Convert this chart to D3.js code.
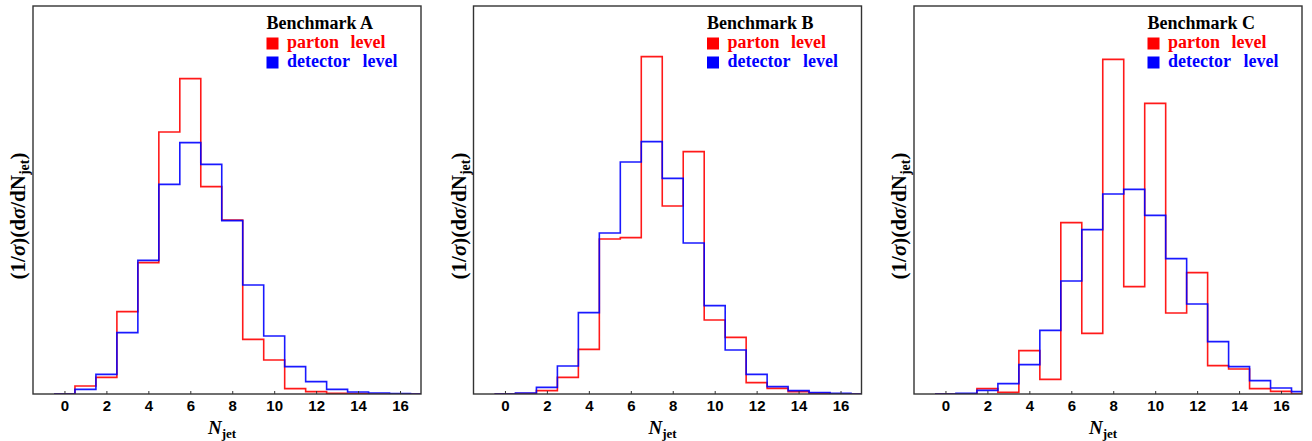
<!DOCTYPE html>
<html>
<head>
<meta charset="utf-8">
<script src="https://cdn.jsdelivr.net/npm/d3@7"></script>
<style>
  html, body { margin: 0; padding: 0; background: #fff; overflow: hidden; }
  svg { display: block; }
</style>
</head>
<body>
<div id="chart"></div>
<script>
// bin centres (N_jet = 0 ... 17), arbitrary normalisation
const bins = d3.range(0, 18);
const xTicks = [0, 2, 4, 6, 8, 10, 12, 14, 16];

const partonA   = [0, 24, 50, 247, 394, 786, 946, 622, 522, 164, 102, 16, 7, 2, 1, 0, 0, 0];
const detectorA = [0, 14, 59, 184, 401, 629, 754, 689, 520, 327, 174, 82, 37, 14, 6, 3, 1, 0];

const partonB   = [0, 1, 10, 50, 134, 465, 469, 1012, 564, 727, 222, 170, 34, 17, 7, 2, 0, 0];
const detectorB = [0, 3, 20, 84, 244, 483, 696, 757, 647, 453, 265, 132, 59, 22, 10, 4, 2, 0];

const partonC   = [0, 0, 16, 5, 130, 44, 514, 182, 1004, 322, 872, 243, 364, 85, 75, 16, 8, 0];
const detectorC = [0, 2, 11, 31, 88, 191, 339, 493, 600, 614, 536, 406, 270, 157, 82, 40, 18, 7];

const panelNames = ["Benchmark A", "Benchmark B", "Benchmark C"];
const partonSeries = [partonA, partonB, partonC];
const detectorSeries = [detectorA, detectorB, detectorC];

const width = 1312, height = 441;
const panelLeft = [33, 473.5, 914];
const panelTop = 6;
const innerWidth = 388, innerHeight = 388;

const serif = "'Liberation Serif', 'Times New Roman', serif";
const sans = "'Liberation Sans', Arial, sans-serif";

const svg = d3.select("#chart").append("svg")
  .attr("width", width)
  .attr("height", height)
  .attr("viewBox", [0, 0, width, height]);

const xScale = d3.scaleLinear().domain([-1.5, 17]).range([0, innerWidth]);
const yScale = d3.scaleLinear().domain([0, 1164]).range([innerHeight, 0]);

const histLine = d3.line()
  .x(d => xScale(d[0]))
  .y(d => yScale(d[1]))
  .curve(d3.curveStepAfter);

const stepPoints = (values) => {
  const pts = values.map((v, i) => [bins[i] - 0.5, v]);
  pts.push([bins[bins.length - 1] + 0.5, values[values.length - 1]]);
  return pts;
};

const drawPanel = (i) => {
  const g = svg.append("g")
    .attr("transform", `translate(${panelLeft[i]}, ${panelTop})`);

  g.append("clipPath").attr("id", `clip-${i}`)
    .append("rect")
      .attr("width", innerWidth)
      .attr("height", innerHeight);

  const plot = g.append("g").attr("clip-path", `url(#clip-${i})`);

  plot.append("path")
    .attr("d", histLine(stepPoints(partonSeries[i])))
    .attr("fill", "none")
    .attr("stroke", "#ff0000")
    .attr("stroke-opacity", 0.9)
    .attr("stroke-width", 1.6);

  plot.append("path")
    .attr("d", histLine(stepPoints(detectorSeries[i])))
    .attr("fill", "none")
    .attr("stroke", "#0000ff")
    .attr("stroke-opacity", 0.9)
    .attr("stroke-width", 1.6);

  // x axis: inward ticks, bold labels
  const xAxis = g.append("g")
    .attr("transform", `translate(0, ${innerHeight})`)
    .call(d3.axisBottom(xScale)
      .tickValues(xTicks)
      .tickSizeInner(-3)
      .tickSizeOuter(0)
      .tickPadding(6));
  xAxis.select(".domain").remove();
  xAxis.selectAll(".tick line").attr("stroke", "#333");
  xAxis.selectAll(".tick text")
    .attr("font-family", sans)
    .attr("font-weight", "bold")
    .attr("font-size", 15)
    .attr("fill", "#000");

  // frame
  g.append("rect")
    .attr("width", innerWidth)
    .attr("height", innerHeight)
    .attr("fill", "none")
    .attr("stroke", "#333")
    .attr("stroke-width", 1.4);

  // x title
  const xt = g.append("text")
    .attr("x", innerWidth / 2 - 5)
    .attr("y", innerHeight + 40)
    .attr("text-anchor", "middle")
    .attr("font-family", serif)
    .attr("fill", "#000");
  xt.append("tspan")
    .attr("font-style", "italic")
    .attr("font-weight", "bold")
    .attr("font-size", 19)
    .text("N");
  xt.append("tspan")
    .attr("font-weight", "bold")
    .attr("font-size", 13)
    .attr("dy", 4)
    .text("jet");

  // y title
  const yt = g.append("text")
    .attr("transform", `translate(-8, ${innerHeight / 2 + 16}) rotate(-90)`)
    .attr("text-anchor", "middle")
    .attr("font-family", serif)
    .attr("font-weight", "bold")
    .attr("font-size", 21)
    .attr("fill", "#000");
  yt.append("tspan").text("(1/");
  yt.append("tspan").attr("font-style", "italic").text("σ");
  yt.append("tspan").text(")(d");
  yt.append("tspan").attr("font-style", "italic").text("σ");
  yt.append("tspan").text("/dN");
  yt.append("tspan").attr("font-size", 14).attr("dy", 4).text("jet");
  yt.append("tspan").attr("dy", -4).text(")");

  // legend
  const lg = g.append("g")
    .attr("transform", "translate(233.5, 0)")
    .attr("font-family", serif)
    .attr("font-weight", "bold")
    .attr("font-size", 18);

  lg.append("text")
    .attr("x", 0)
    .attr("y", 22.5)
    .attr("fill", "#000")
    .text(panelNames[i]);

  const entries = [
    { label: "parton", color: "#ff0000", y: 31.5, levelX: 84 },
    { label: "detector", color: "#0000ff", y: 50.5, levelX: 96 }
  ];
  entries.forEach(e => {
    lg.append("rect")
      .attr("x", 0)
      .attr("y", e.y)
      .attr("width", 12)
      .attr("height", 12)
      .attr("fill", e.color);
    const t = lg.append("text")
      .attr("y", e.y + 10)
      .attr("fill", e.color);
    t.append("tspan").attr("x", 20.5).text(e.label);
    t.append("tspan").attr("x", e.levelX).text("level");
  });
};

panelNames.forEach((_, i) => drawPanel(i));
</script>
</body>
</html>
